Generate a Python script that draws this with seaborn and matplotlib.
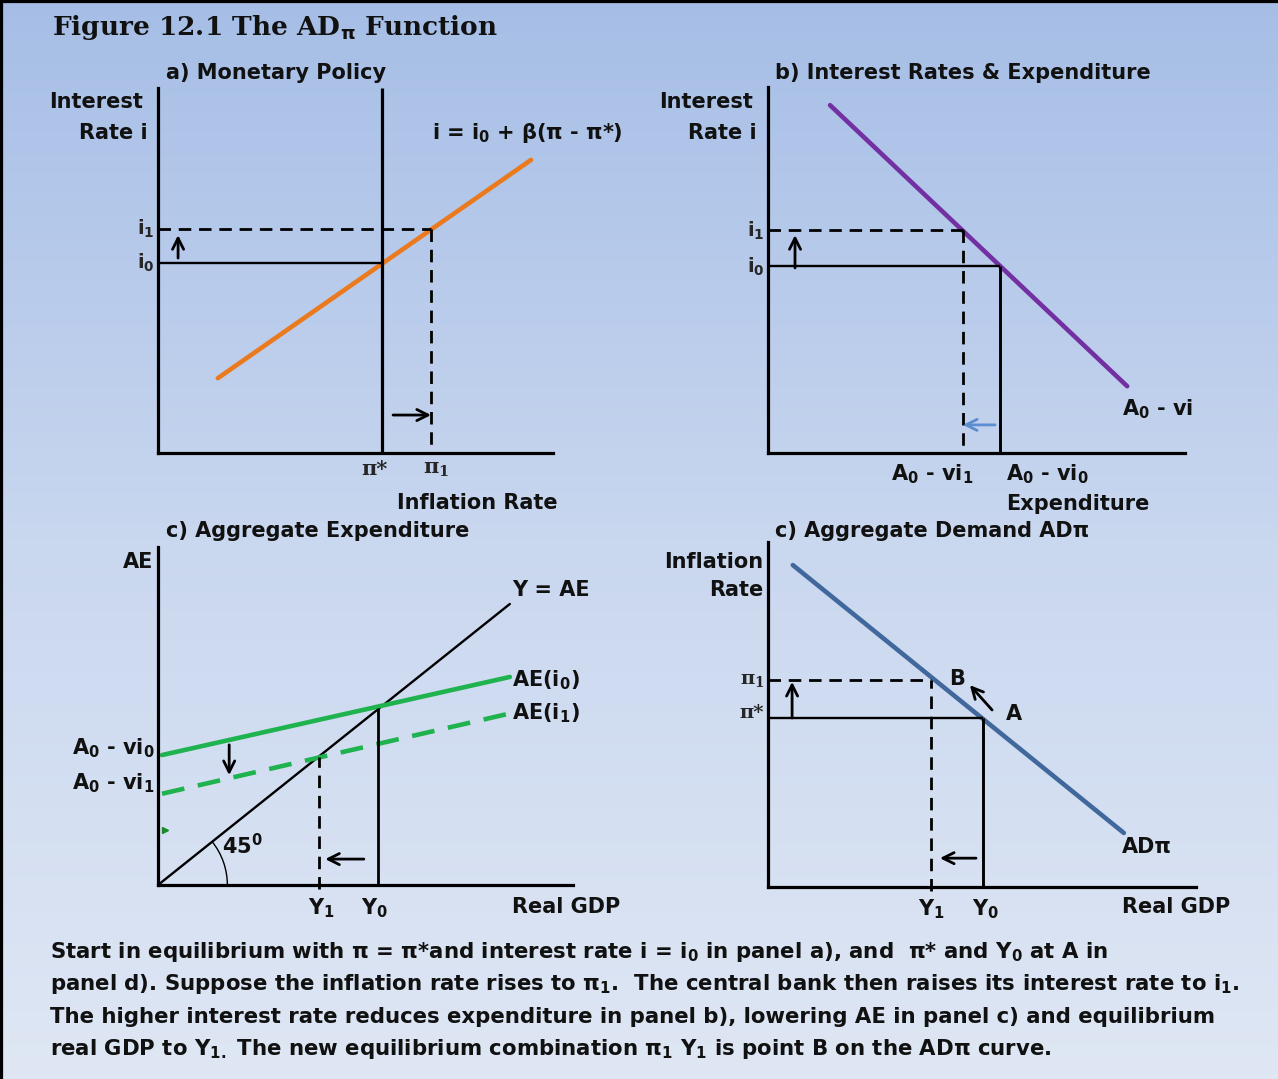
import numpy as np
import matplotlib.pyplot as plt
import seaborn as sns
from matplotlib.colors import LinearSegmentedColormap
from matplotlib.patches import Arc

# ---- panel a) monetary policy rule  i = i0 + b(pi - pi*)
pi_star, pi_1 = 6.14, 7.48
i0_a, i1_a = 5.21, 6.14
mp_pi = [1.64, 10.22]
mp_i = [2.05, 8.03]

# ---- panel b) interest rate vs expenditure  A0 - vi
i0_b, i1_b = 5.11, 6.10
exp_0, exp_1 = 6.36, 5.34
ie_exp = [1.70, 9.84]
ie_rate = [9.53, 1.83]

# ---- panel c) aggregate expenditure
y_0, y_1 = 6.03, 4.41
ae_y0, ae_y1 = 4.86, 3.52
line45_x = [0.0, 9.64]
line45_y = [0.0, 7.70]
ae0_x = [0.11, 9.64]
ae0_y = [3.56, 5.70]
ae1_x = [0.11, 9.64]
ae1_y = [2.50, 4.70]

# ---- panel d) aggregate demand AD-pi
y0_d, y1_d = 5.89, 4.47
pistar_d, pi1_d = 4.63, 5.67
ad_gdp = [0.68, 9.75]
ad_pi = [8.82, 1.48]

# arrows (tail, head) in panel units
arrows_a = [((0.55, 5.34), (0.55, 5.97)), ((6.44, 1.04), (7.48, 1.04))]
arrows_b = [((0.74, 5.07), (0.74, 5.97))]
arrow_b_blue = ((6.22, 0.77), (5.34, 0.77))
arrows_c = [((1.95, 3.84), (1.95, 3.01)), ((5.64, 0.71), (4.58, 0.71))]
arrows_d = [((0.66, 4.63), (0.66, 5.62)), ((6.14, 4.85), (5.53, 5.53)),
            ((5.70, 0.79), (4.71, 0.79))]

caption = [
    "Start in equilibrium with π = π*and interest rate i = i$_0$ in panel a), and  π* and Y$_0$ at A in",
    "panel d). Suppose the inflation rate rises to π$_1$.  The central bank then raises its interest rate to i$_1$.",
    "The higher interest rate reduces expenditure in panel b), lowering AE in panel c) and equilibrium",
    "real GDP to Y$_{1.}$ The new equilibrium combination π$_1$ Y$_1$ is point B on the ADπ curve.",
]

W, H = 1278, 1079
UNIT = 36.5  # pixels per panel unit
FS = 15

sns.set_theme(style="white")
plt.rcParams['font.family'] = ['DejaVu Sans']
plt.rcParams['mathtext.default'] = 'bf'
plt.rcParams['mathtext.fontset'] = 'dejavusans'

fig = plt.figure(figsize=(W / 100, H / 100), dpi=100)

# background gradient + frame
bg = fig.add_axes([0, 0, 1, 1])
cmap = LinearSegmentedColormap.from_list('bg', ['#a6bee6', '#c9d7ef', '#dfe7f4'])
bg.imshow(np.linspace(0, 1, 256).reshape(-1, 1), cmap=cmap, aspect='auto',
          extent=[0, 1, 0, 1], origin='upper')
bg.set_xlim(0, 1)
bg.set_ylim(0, 1)
bg.set_xticks([])
bg.set_yticks([])
for s in ['right', 'bottom']:
    bg.spines[s].set_visible(False)
for s in ['left', 'top']:
    bg.spines[s].set_color('black')
    bg.spines[s].set_linewidth(4.5)


def ftext(x, y, s, ha='left', size=FS, **kw):
    fig.text(x / W, 1 - y / H, s, ha=ha, va='center', fontsize=size,
             fontweight='bold', color='#111111', **kw)


def panel(left, top, right, bottom):
    ax = fig.add_axes([left / W, 1 - bottom / H, (right - left) / W, (bottom - top) / H])
    ax.set_xlim(0, (right - left) / UNIT)
    ax.set_ylim(0, (bottom - top) / UNIT)
    ax.patch.set_alpha(0)
    for s in ['top', 'right']:
        ax.spines[s].set_visible(False)
    for s in ['left', 'bottom']:
        ax.spines[s].set_color('black')
        ax.spines[s].set_linewidth(2.3)
    ax.set_xticks([])
    ax.set_yticks([])
    return ax


def guide(ax, xs, ys, dashed=False, lw=1.7):
    if dashed:
        ax.plot(xs, ys, color='black', lw=2.0, ls=(0, (4.5, 2.8)), clip_on=False)
    else:
        ax.plot(xs, ys, color='black', lw=lw, clip_on=False, solid_capstyle='butt')


def arrow(ax, tail, head, color='black'):
    ax.annotate('', xy=head, xytext=tail, annotation_clip=False,
                arrowprops=dict(arrowstyle='->', color=color, lw=2,
                                mutation_scale=20, shrinkA=0, shrinkB=0))


def curve(ax, xs, ys, color, ls='-'):
    sns.lineplot(x=xs, y=ys, ax=ax, color=color, lw=3.3, linestyle=ls,
                 estimator=None, sort=False)


def ylab(ax, y, s, serif=False):
    ax.text(-0.1, y, s, ha='right', va='center', fontsize=FS - 1, fontweight='bold',
            family='DejaVu Serif' if serif else 'DejaVu Sans',
            math_fontfamily='dejavuserif' if serif else 'dejavusans')


# title
fig.text(52 / W, 1 - 28 / H, r"Figure 12.1 The AD$_\pi$ Function", ha='left', va='center',
         fontsize=19, fontweight='bold', family='DejaVu Serif', color='#111111')

# ---------------- panel a
ax_a = panel(158, 88, 553, 453)
curve(ax_a, mp_pi, mp_i, '#eb7a1e')
guide(ax_a, [pi_star, pi_star], [0, ax_a.get_ylim()[1]], lw=2.3)
guide(ax_a, [0, pi_star], [i0_a, i0_a])
guide(ax_a, [0, pi_1], [i1_a, i1_a], dashed=True)
guide(ax_a, [pi_1, pi_1], [i1_a, 0.15], dashed=True)
for t, h in arrows_a:
    arrow(ax_a, t, h)
ylab(ax_a, i1_a, "i$_1$")
ylab(ax_a, i0_a, "i$_0$")
for xv, s in [(pi_star - 0.2, "π*"), (pi_1 + 0.15, "π$_1$")]:
    ax_a.text(xv, -0.45, s, ha='center', va='center', fontsize=FS, fontweight='bold',
              family='DejaVu Serif', math_fontfamily='dejavuserif')
ftext(166, 73, "a) Monetary Policy")
ftext(143, 102, "Interest", ha='right')
ftext(148, 133, "Rate i", ha='right')
ftext(432, 133, "i = i$_0$ + β(π - π*)")
ftext(397, 503, "Inflation Rate")

# ---------------- panel b
ax_b = panel(768, 87, 1185, 453)
curve(ax_b, ie_exp, ie_rate, '#7330a2')
guide(ax_b, [0, exp_0], [i0_b, i0_b])
guide(ax_b, [exp_0, exp_0], [0, i0_b], lw=2.1)
guide(ax_b, [0, exp_1], [i1_b, i1_b], dashed=True)
guide(ax_b, [exp_1, exp_1], [i1_b, 0.2], dashed=True)
for t, h in arrows_b:
    arrow(ax_b, t, h)
arrow(ax_b, *arrow_b_blue, color='#5b8ed0')
ylab(ax_b, i1_b, "i$_1$")
ylab(ax_b, i0_b, "i$_0$")
ftext(775, 73, "b) Interest Rates & Expenditure")
ftext(753, 102, "Interest", ha='right')
ftext(757, 133, "Rate i", ha='right')
ftext(932, 474, "A$_0$ - vi$_1$", ha='center')
ftext(1006, 474, "A$_0$ - vi$_0$")
ftext(1006, 504, "Expenditure")
ftext(1122, 409, "A$_0$ - vi")

# ---------------- panel c
ax_c = panel(158, 547, 573, 885)
sns.lineplot(x=line45_x, y=line45_y, ax=ax_c, color='black', lw=1.7, estimator=None)
curve(ax_c, ae0_x, ae0_y, '#1fb34f')
curve(ax_c, ae1_x, ae1_y, '#1fb34f', ls=(0, (5, 3)))
guide(ax_c, [y_0, y_0], [0, ae_y0], lw=2)
guide(ax_c, [y_1, y_1], [-0.1, ae_y1], dashed=True)
angle = np.degrees(np.arctan2(line45_y[1], line45_x[1]))
ax_c.add_patch(Arc((0, 0), 3.8, 3.8, theta1=0, theta2=angle, color='black', lw=1))
ax_c.plot([0.2], [1.5], marker='>', color='#1a8a2a', ms=5)
for t, h in arrows_c:
    arrow(ax_c, t, h)
ftext(166, 531, "c) Aggregate Expenditure")
ftext(153, 562, "AE", ha='right')
ftext(512, 590, "Y = AE")
ftext(512, 680, "AE(i$_0$)")
ftext(512, 713, "AE(i$_1$)")
ftext(72, 748, "A$_0$ - vi$_0$")
ftext(72, 783, "A$_0$ - vi$_1$")
ftext(222, 846, "45$^0$")
ftext(321, 908, "Y$_1$", ha='center')
ftext(374, 908, "Y$_0$", ha='center')
ftext(512, 907, "Real GDP")

# ---------------- panel d
ax_d = panel(768, 542, 1196, 887)
curve(ax_d, ad_gdp, ad_pi, '#41689c')
guide(ax_d, [0, y0_d], [pistar_d, pistar_d])
guide(ax_d, [y0_d, y0_d], [0, pistar_d], lw=2.1)
guide(ax_d, [0, y1_d], [pi1_d, pi1_d], dashed=True)
guide(ax_d, [y1_d, y1_d], [-0.1, pi1_d], dashed=True)
for t, h in arrows_d:
    arrow(ax_d, t, h)
ylab(ax_d, pi1_d, "π$_1$", serif=True)
ylab(ax_d, pistar_d + 0.15, "π*", serif=True)
ftext(775, 531, "c) Aggregate Demand ADπ")
ftext(763, 562, "Inflation", ha='right')
ftext(763, 590, "Rate", ha='right')
ftext(957, 679, "B", ha='center')
ftext(1014, 714, "A", ha='center')
ftext(1122, 847, "ADπ")
ftext(931, 909, "Y$_1$", ha='center')
ftext(985, 909, "Y$_0$", ha='center')
ftext(1122, 907, "Real GDP")

# ---------------- caption
for k, line in enumerate(caption):
    ftext(50, 952 + k * 32.3, line, size=15.3)

fig.savefig('out.png', dpi=100)
